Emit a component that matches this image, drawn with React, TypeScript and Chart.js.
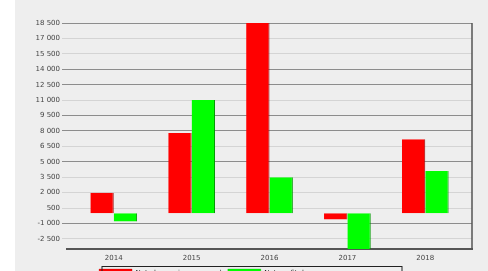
import React, { useEffect, useRef } from "react";
import { Chart, registerables } from "chart.js";

Chart.register(...registerables);

const categories = ["2014", "2015", "2016", "2017", "2018"];
const seriesNames = ["Net change in revenue, k", "Net profit, k"];
const seriesRed = [2000, 7800, 18500, -600, 7200];
const seriesGreen = [-800, 11000, 3500, -3600, 4100];
const yTicks = [-2500, -1000, 500, 2000, 3500, 5000, 6500, 8000, 9500, 11000, 12500, 14000, 15500, 17000, 18500];
const darkGridTicks = [-1000, 5000, 8000, 9500, 12500, 14000, 18500];
const yMin = -3480;
const yMax = 18500;

const fmt = (v: number) => {
  const s = Math.abs(v).toString().replace(/\B(?=(\d{3})+(?!\d))/g, " ");
  return (v < 0 ? "-" : "") + s;
};

const framePlugin = {
  id: "framePlugin",
  afterLayout(chart: any) {
    const lg = chart.legend;
    if (lg) {
      // shift legend items a bit to the left inside the framed legend box
      lg.right = lg.right - 82;
    }
  },
  afterDraw(chart: any) {
    const { ctx, chartArea } = chart;
    ctx.save();
    ctx.strokeStyle = "#555555";
    ctx.lineWidth = 1.5;
    ctx.beginPath();
    ctx.moveTo(chartArea.right, chartArea.top);
    ctx.lineTo(chartArea.right, chartArea.bottom);
    ctx.stroke();
    const lg = chart.legend;
    if (lg) {
      const cx = chart.width / 2;
      ctx.strokeStyle = "#222222";
      ctx.lineWidth = 1;
      ctx.strokeRect(cx - 150 + 0.5, lg.top + 1.5, 300, 24);
    }
    ctx.restore();
  },
};

export default function App() {
  const ref = useRef<HTMLCanvasElement>(null);
  useEffect(() => {
    if (!ref.current) return;
    const font = { family: "DejaVu Sans", size: 7 };
    const chart = new Chart(ref.current, {
      type: "bar",
      data: {
        datasets: [
          {
            label: seriesNames[0],
            data: seriesRed.map((v, i) => ({ x: i, y: v })),
            backgroundColor: "#ff0000",
            borderColor: "#990000",
            borderWidth: { right: 1, left: 0, top: 0, bottom: 0 },
            borderSkipped: false,
            categoryPercentage: 0.6,
            barPercentage: 1,
          },
          {
            label: seriesNames[1],
            data: seriesGreen.map((v, i) => ({ x: i, y: v })),
            backgroundColor: "#00ff00",
            borderColor: "#009900",
            borderWidth: { right: 1, left: 0, top: 0, bottom: 0 },
            borderSkipped: false,
            categoryPercentage: 0.6,
            barPercentage: 1,
          },
        ],
      } as any,
      options: {
        animation: false,
        responsive: false,
        maintainAspectRatio: false,
        layout: { padding: { top: 23, right: 16, left: 0, bottom: 12 } },
        plugins: {
          tooltip: { enabled: false },
          legend: {
            position: "bottom",
            labels: {
              font,
              color: "#222222",
              boxWidth: 33,
              boxHeight: 9,
              padding: 4,
            },
          },
        },
        scales: {
          x: {
            type: "linear",
            offset: false,
            min: -0.6,
            max: 4.6,
            afterBuildTicks: (s: any) => {
              s.ticks = categories.map((_, i) => ({ value: i }));
            },
            afterFit: (s: any) => {
              s.height = 16;
            },
            grid: { display: false, drawTicks: false, offset: false },
            border: { display: true, color: "#555555", width: 2 },
            ticks: {
              font,
              color: "#444444",
              padding: 5,
              maxRotation: 0,
              callback: (v: any) => categories[v as number] ?? "",
            },
          },
          y: {
            min: yMin,
            max: yMax,
            afterBuildTicks: (s: any) => {
              s.ticks = yTicks.map((v) => ({ value: v }));
            },
            afterFit: (s: any) => {
              s.width = 52;
            },
            border: { display: false },
            grid: {
              color: (c: any) =>
                darkGridTicks.includes(c.tick?.value) ? "#8c8c8c" : "#d4d4d4",
              lineWidth: 1,
              tickLength: 5,
            },
            ticks: {
              font,
              color: "#444444",
              padding: 2,
              callback: (v: any) => fmt(v as number),
            },
          },
        },
      } as any,
      plugins: [framePlugin],
    });
    return () => chart.destroy();
  }, []);
  return (
    <div
      style={{
        position: "absolute",
        left: 15,
        top: 0,
        width: 473,
        height: 300,
        background: "#eeeeee",
      }}
    >
      <canvas ref={ref} width={473} height={300} style={{ display: "block" }} />
    </div>
  );
}
